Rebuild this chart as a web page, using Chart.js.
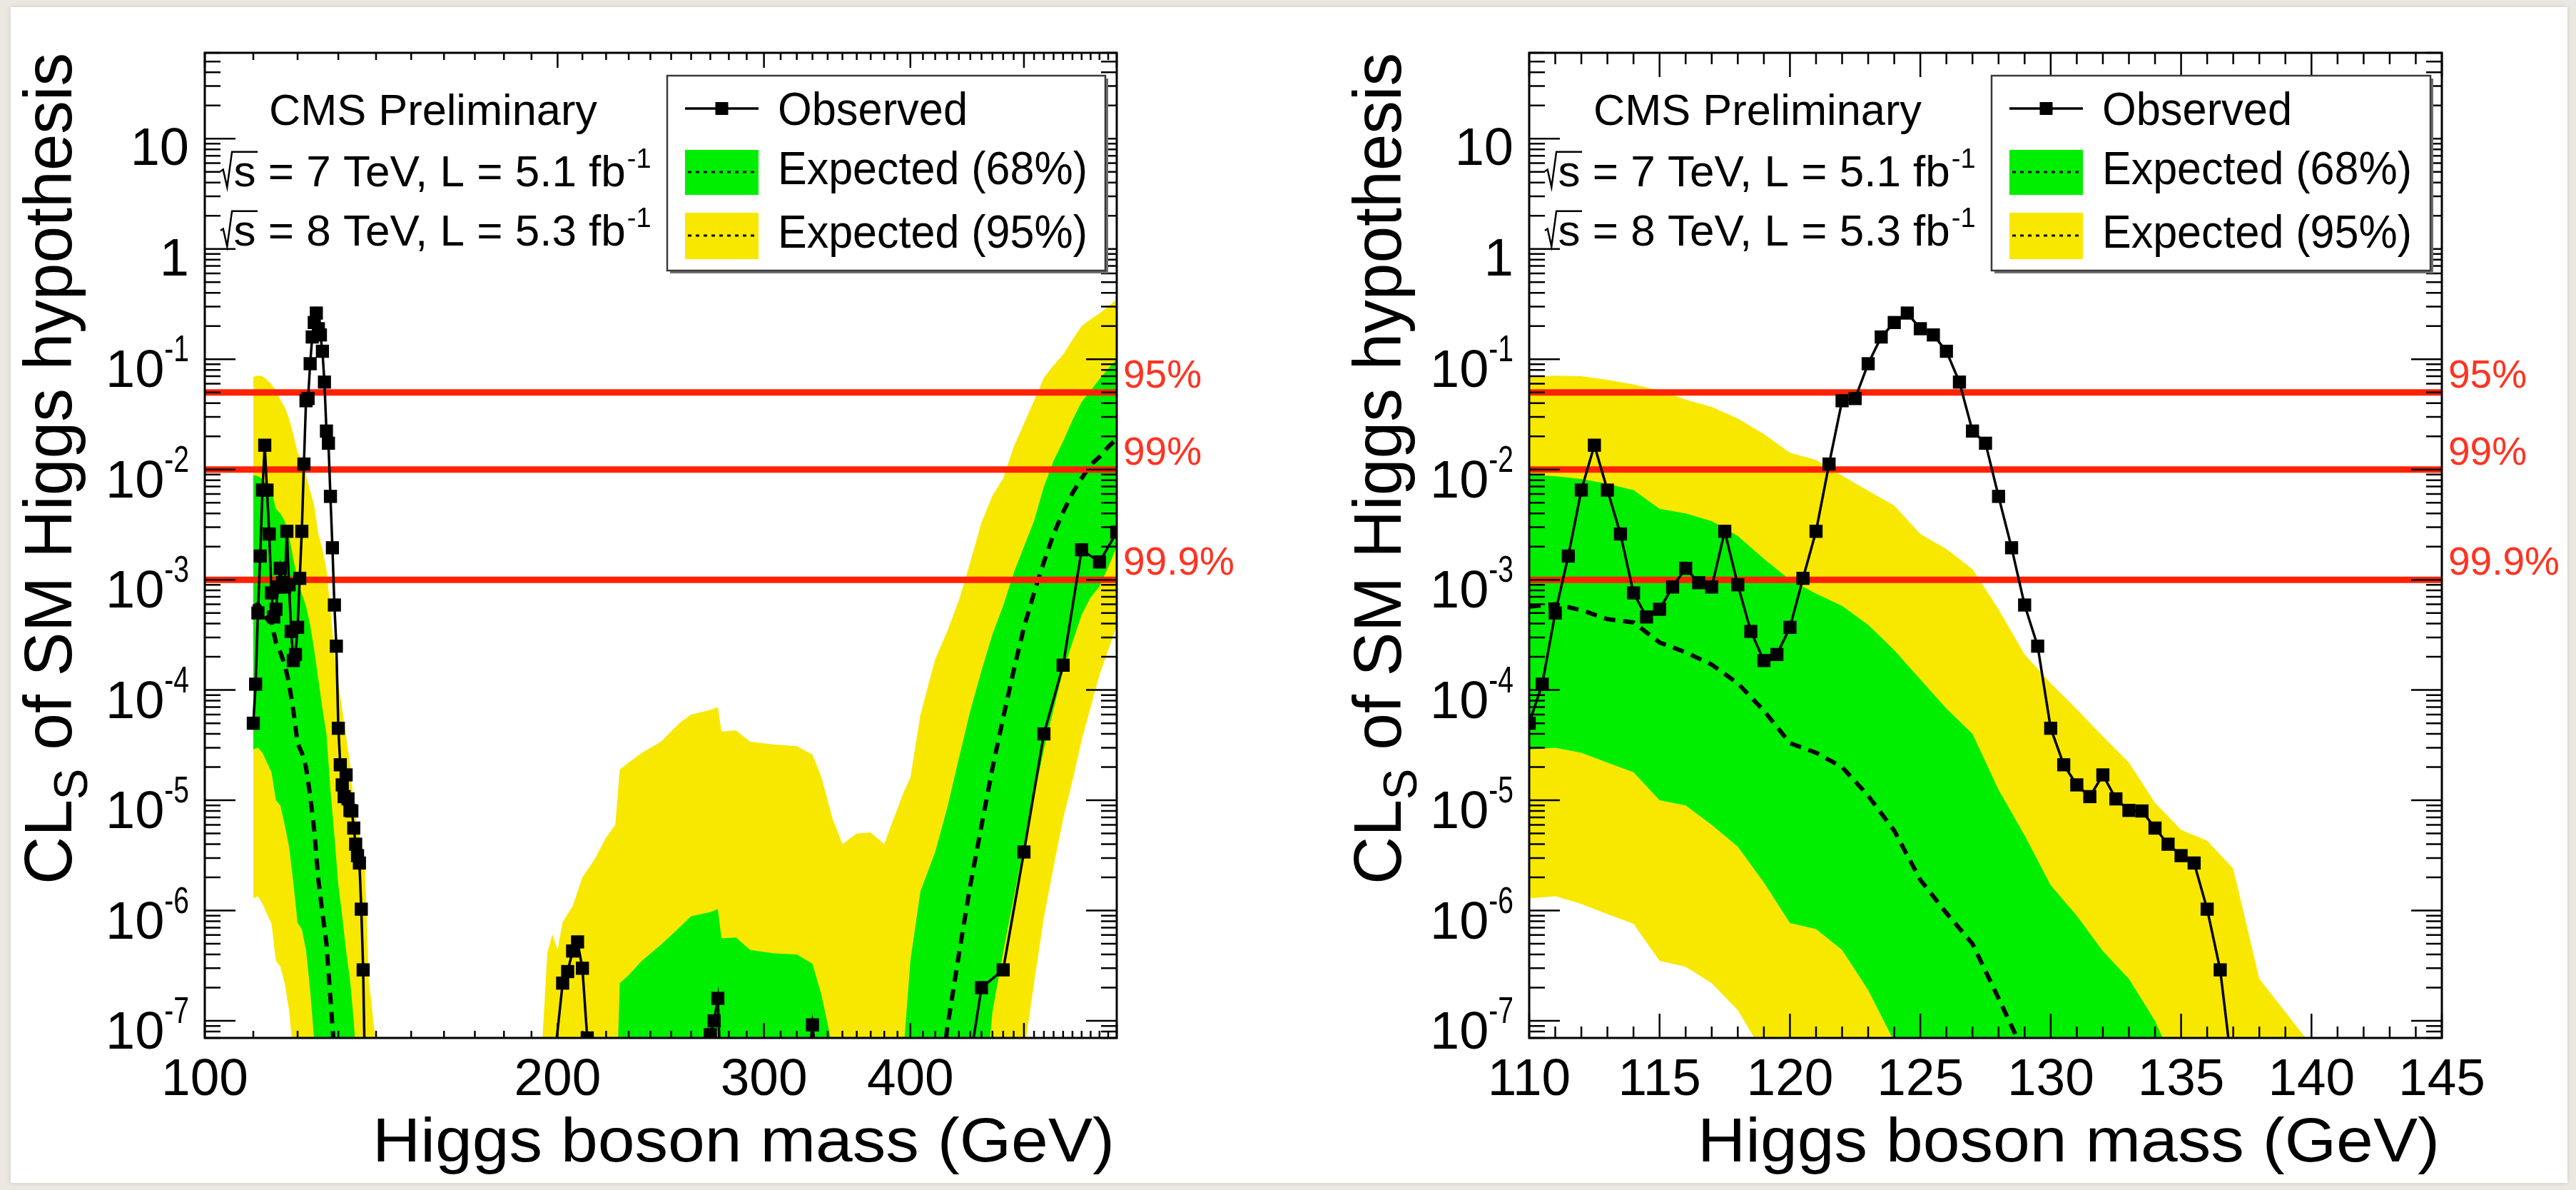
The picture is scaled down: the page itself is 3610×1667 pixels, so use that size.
<!DOCTYPE html>
<html>
<head>
<meta charset="utf-8">
<title>CLs of SM Higgs hypothesis</title>
<script src="https://cdn.jsdelivr.net/npm/chart.js@4.4.1/dist/chart.umd.min.js"></script>
<style>
	html, body { margin: 0; padding: 0; background: #ebe8e2; }
	body { width: 3610px; height: 1667px; position: relative; overflow: hidden; }
	#page { position: absolute; left: 15px; top: 10px; width: 3583px; height: 1647px; background: #ffffff;
		box-shadow: 0 0 7px rgba(0, 0, 0, 0.12); }
	canvas { position: absolute; top: 0; z-index: 1; }
	#left { left: 0; }
	#right { left: 1800px; }
</style>
</head>
<body>
<div id="page"></div>
<canvas id="left" width="1800" height="1667"></canvas>
<canvas id="right" width="1810" height="1667"></canvas>
<script>
// observed CLs, low mass scan (0.5 GeV steps)
const obsMassLow = [110, 110.5, 111, 111.5, 112, 112.5, 113, 113.5, 114, 114.5,
	115, 115.5, 116, 116.5, 117, 117.5, 118, 118.5, 119, 119.5,
	120, 120.5, 121, 121.5, 122, 122.5, 123, 123.5, 124, 124.5,
	125, 125.5, 126, 126.5, 127, 127.5, 128, 128.5, 129, 129.5,
	130, 130.5, 131, 131.5, 132, 132.5, 133, 133.5, 134, 134.5,
	135, 135.5, 136, 136.5, 137];
const obsLow = [5.0e-5, 1.13e-4, 5.0e-4, 1.64e-3, 6.5e-3, 0.0166, 6.5e-3, 2.6e-3, 7.6e-4, 4.6e-4,
	5.4e-4, 8.6e-4, 1.27e-3, 9.4e-4, 8.6e-4, 2.75e-3, 9.0e-4, 3.4e-4, 1.85e-4, 2.1e-4,
	3.7e-4, 1.03e-3, 2.75e-3, 0.0112, 0.042, 0.044, 0.091, 0.159, 0.215, 0.262,
	0.189, 0.166, 0.118, 0.062, 0.0223, 0.0173, 5.7e-3, 1.95e-3, 5.9e-4, 2.5e-4,
	4.5e-5, 2.1e-5, 1.38e-5, 1.08e-5, 1.7e-5, 1.03e-5, 8.1e-6, 8.0e-6, 5.6e-6, 4.0e-6,
	3.15e-6, 2.7e-6, 1.03e-6, 2.9e-7, 3e-8];

// observed CLs, high mass points
const obsMassHigh = [198, 202, 204, 206, 208, 210, 212, 214, 268, 270, 272, 274, 276,
	325, 330, 335, 440, 460, 480, 500, 520, 540, 560, 580, 600];
const obsHigh = [3e-8, 2.2e-7, 2.8e-7, 4.3e-7, 5.2e-7, 3.0e-7, 7e-8, 1e-8, 1e-8, 7.5e-8, 1.0e-7, 1.6e-7, 2e-8,
	2e-8, 9.2e-8, 2e-8, 1e-8, 2.0e-7, 2.9e-7, 3.4e-6, 4.0e-5, 1.68e-4, 1.87e-3, 1.45e-3, 2.7e-3];

// expected bands, low mass
const expMassLow = [110, 111, 112, 113, 114, 115, 116, 117, 118, 119,
	120, 121, 122, 123, 124, 125, 126, 127, 128, 129,
	130, 131, 132, 133, 134, 135, 136, 137, 138, 139,
	140, 141, 145];
const exp95UpLow = [0.069, 0.071, 0.070, 0.065, 0.059, 0.052, 0.043, 0.037, 0.029, 0.021,
	0.0142, 0.0122, 0.0088, 0.0064, 0.0047, 0.0026, 0.0019, 0.00125, 5.4e-4, 2.1e-4,
	1.15e-4, 6.7e-5, 3.8e-5, 2.2e-5, 9.5e-6, 5.4e-6, 4.3e-6, 2.4e-6, 2.4e-7, 1.2e-7,
	6e-8, 1e-8, 1e-8];
const exp68UpLow = [8.9e-3, 8.7e-3, 8.2e-3, 7.4e-3, 6.5e-3, 4.4e-3, 4.0e-3, 3.4e-3, 2.5e-3, 1.55e-3,
	1.0e-3, 7.5e-4, 5.8e-4, 3.9e-4, 2.3e-4, 1.25e-4, 6.8e-5, 4.0e-5, 1.25e-5, 4.8e-6,
	1.7e-6, 9e-7, 4.3e-7, 2.4e-7, 1.0e-7, 3e-8, 1e-8, 1e-8, 1e-8, 1e-8,
	1e-8, 1e-8, 1e-8];
const expMedLow = [5.7e-4, 6.0e-4, 5.3e-4, 4.4e-4, 4.1e-4, 2.7e-4, 2.2e-4, 1.7e-4, 1.15e-4, 6.5e-5,
	3.3e-5, 2.7e-5, 2.0e-5, 1.1e-5, 5.3e-6, 1.9e-6, 9.5e-7, 5e-7, 1.6e-7, 5e-8,
	1e-8, 1e-8, 1e-8, 1e-8, 1e-8, 1e-8, 1e-8, 1e-8, 1e-8, 1e-8,
	1e-8, 1e-8, 1e-8];
const exp68DnLow = [2.9e-5, 3.0e-5, 2.7e-5, 2.2e-5, 1.8e-5, 1.0e-5, 9.0e-6, 6.0e-6, 3.8e-6, 1.8e-6,
	7.7e-7, 6.8e-7, 4.4e-7, 1.9e-7, 6.5e-8, 1e-8, 1e-8, 1e-8, 1e-8, 1e-8,
	1e-8, 1e-8, 1e-8, 1e-8, 1e-8, 1e-8, 1e-8, 1e-8, 1e-8, 1e-8,
	1e-8, 1e-8, 1e-8];
const exp95DnLow = [1.29e-6, 1.35e-6, 1.15e-6, 9.3e-7, 7.6e-7, 3.5e-7, 3.1e-7, 2.2e-7, 1.25e-7, 5e-8,
	1e-8, 1e-8, 1e-8, 1e-8, 1e-8, 1e-8, 1e-8, 1e-8, 1e-8, 1e-8,
	1e-8, 1e-8, 1e-8, 1e-8, 1e-8, 1e-8, 1e-8, 1e-8, 1e-8, 1e-8,
	1e-8, 1e-8, 1e-8];

// expected bands, high mass
const expMassHigh = [150, 190, 194, 196, 198, 200, 202, 206, 210, 215,
	220, 224, 226, 230, 236, 245, 254, 260, 270, 274,
	276, 284, 292, 306, 320, 330, 336, 343, 350, 360,
	370, 380, 386, 395, 400, 408, 420, 430, 440, 450,
	460, 470, 480, 490, 500, 510, 520, 530, 540, 550,
	560, 570, 580, 590, 600];
const exp95UpHigh = [1e-8, 1e-8, 6e-8, 4.1e-7, 6.1e-7, 4.4e-7, 7.9e-7, 1.1e-6, 2.0e-6, 2.9e-6,
	4.6e-6, 6.0e-6, 1.9e-5, 2.2e-5, 2.7e-5, 3.4e-5, 5.0e-5, 6.0e-5, 6.6e-5, 7.0e-5,
	4.2e-5, 4.3e-5, 3.4e-5, 3.2e-5, 3.1e-5, 2.6e-5, 1.6e-5, 7.0e-6, 4.0e-6, 5.0e-6,
	5.1e-6, 4.0e-6, 6.3e-6, 1.2e-5, 1.6e-5, 6.0e-5, 1.9e-4, 3.4e-4, 6.5e-4, 1.45e-3,
	3.3e-3, 5.8e-3, 8.3e-3, 0.016, 0.026, 0.042, 0.068, 0.088, 0.11, 0.15,
	0.20, 0.23, 0.26, 0.30, 0.35];
const exp68UpHigh = [1e-8, 1e-8, 1e-8, 1e-8, 1e-8, 1e-8, 1e-8, 1e-8, 1e-8, 1e-8,
	1e-8, 1e-8, 2.2e-7, 2.6e-7, 3.5e-7, 4.9e-7, 7.0e-7, 8.9e-7, 9.7e-7, 1.03e-6,
	5.6e-7, 5.7e-7, 4.4e-7, 4.1e-7, 4.0e-7, 3.3e-7, 1.7e-7, 6e-8, 1e-8, 1e-8,
	1e-8, 1e-8, 1e-8, 6e-8, 3.5e-7, 1.5e-6, 3.4e-6, 8.5e-6, 2.4e-5, 6.5e-5,
	1.5e-4, 3.2e-4, 5.8e-4, 1.15e-3, 2.0e-3, 3.4e-3, 7.0e-3, 0.012, 0.018, 0.028,
	0.041, 0.052, 0.066, 0.082, 0.10];
const expMedHigh = [1e-8, 1e-8, 1e-8, 1e-8, 1e-8, 1e-8, 1e-8, 1e-8, 1e-8, 1e-8,
	1e-8, 1e-8, 1e-8, 1e-8, 1e-8, 1e-8, 1e-8, 1e-8, 1e-8, 1e-8,
	1e-8, 1e-8, 1e-8, 1e-8, 1e-8, 1e-8, 1e-8, 1e-8, 1e-8, 1e-8,
	1e-8, 1e-8, 1e-8, 1e-8, 1e-8, 1e-8, 1e-8, 8.5e-8, 4e-7, 1.7e-6,
	5.9e-6, 1.95e-5, 5.6e-5, 1.5e-4, 3.7e-4, 7.6e-4, 1.45e-3, 2.6e-3, 4.1e-3, 6.1e-3,
	8.3e-3, 0.011, 0.013, 0.016, 0.019];
const exp68DnHigh = [1e-8, 1e-8, 1e-8, 1e-8, 1e-8, 1e-8, 1e-8, 1e-8, 1e-8, 1e-8,
	1e-8, 1e-8, 1e-8, 1e-8, 1e-8, 1e-8, 1e-8, 1e-8, 1e-8, 1e-8,
	1e-8, 1e-8, 1e-8, 1e-8, 1e-8, 1e-8, 1e-8, 1e-8, 1e-8, 1e-8,
	1e-8, 1e-8, 1e-8, 1e-8, 1e-8, 1e-8, 1e-8, 1e-8, 1e-8, 1e-8,
	1e-8, 1.2e-7, 4.2e-7, 1.3e-6, 3.9e-6, 1.07e-5, 2.9e-5, 6.7e-5, 1.5e-4, 2.7e-4,
	4.8e-4, 6.9e-4, 8.7e-4, 1.3e-3, 2.0e-3];
const exp95DnHigh = [1e-8, 1e-8, 1e-8, 1e-8, 1e-8, 1e-8, 1e-8, 1e-8, 1e-8, 1e-8,
	1e-8, 1e-8, 1e-8, 1e-8, 1e-8, 1e-8, 1e-8, 1e-8, 1e-8, 1e-8,
	1e-8, 1e-8, 1e-8, 1e-8, 1e-8, 1e-8, 1e-8, 1e-8, 1e-8, 1e-8,
	1e-8, 1e-8, 1e-8, 1e-8, 1e-8, 1e-8, 1e-8, 1e-8, 1e-8, 1e-8,
	1e-8, 1e-8, 1e-8, 1e-8, 5e-8, 2.2e-7, 8.7e-7, 2.5e-6, 6.8e-6, 1.5e-5,
	3.5e-5, 7.0e-5, 1.37e-4, 2.3e-4, 3.8e-4];

// confidence levels (red lines)
const clLevels = [0.05, 0.01, 0.001];
const clNames = ['95%', '99%', '99.9%'];

// axis labels
const leftXLabels = [100, 200, 300, 400];
const rightXLabels = [110, 115, 120, 125, 130, 135, 140, 145];
const yLabelExps = [1, 0, -1, -2, -3, -4, -5, -6, -7];
const legendLabels = ['Observed', 'Expected (68%)', 'Expected (95%)'];

const Y_MIN = 7e-8, Y_MAX = 60;
const YELLOW = '#f8e800';
const GREEN = '#00ee00';
const RED = '#ff2200';
const FONT = '"Liberation Sans", Arial, Helvetica, sans-serif';

Chart.defaults.font.family = FONT;

const pts = (xs, ys) => xs.map((x, i) => ({x: x, y: ys[i]}));

function font(px) { return px + 'px ' + FONT; }

// text squeezed or stretched to a given width
function fitText(ctx, text, x, y, px, width, align) {
	ctx.font = font(px);
	const s = width / ctx.measureText(text).width;
	ctx.save();
	ctx.translate(x, y);
	ctx.scale(s, 1);
	ctx.textAlign = align;
	ctx.fillText(text, 0, 0);
	ctx.restore();
}

function drawRootS(ctx, x, y, f, text, sup) {
	ctx.font = font(f);
	const sw = ctx.measureText('s').width;
	const sx = x + 0.30 * f;
	ctx.save();
	ctx.strokeStyle = '#000';
	ctx.lineWidth = 2.5;
	ctx.beginPath();
	ctx.moveTo(x, y - 0.34 * f);
	ctx.lineTo(x + 0.06 * f, y - 0.38 * f);
	ctx.lineTo(x + 0.15 * f, y + 0.02 * f);
	ctx.lineTo(x + 0.26 * f, y - 0.78 * f);
	ctx.lineTo(sx + sw + 0.04 * f, y - 0.78 * f);
	ctx.stroke();
	ctx.restore();
	ctx.textAlign = 'left';
	ctx.fillText('s' + text, sx, y);
	const w = ctx.measureText('s' + text).width;
	ctx.font = font(Math.round(f * 0.62));
	ctx.fillText(sup, sx + w + 2, y - 0.42 * f);
}

function drawLegend(ctx, a) {
	const x0 = a.left + 648, x1 = a.right - 16, y0 = 106, y1 = 379;
	ctx.fillStyle = '#707070';
	ctx.fillRect(x0 + 4, y0 + 4, x1 - x0, y1 - y0);
	ctx.fillStyle = '#ffffff';
	ctx.fillRect(x0, y0, x1 - x0, y1 - y0);
	ctx.strokeStyle = '#3a3a3a';
	ctx.lineWidth = 2.5;
	ctx.strokeRect(x0, y0, x1 - x0, y1 - y0);

	const sx0 = x0 + 25, sx1 = x0 + 128, tx = x0 + 155;
	// observed sample
	ctx.strokeStyle = '#000';
	ctx.lineWidth = 3.5;
	ctx.beginPath(); ctx.moveTo(sx0, 152); ctx.lineTo(sx1, 152); ctx.stroke();
	ctx.fillStyle = '#000';
	ctx.fillRect((sx0 + sx1) / 2 - 9, 143, 18, 18);
	// band samples
	ctx.fillStyle = GREEN;
	ctx.fillRect(sx0, 210, sx1 - sx0, 63);
	ctx.fillStyle = YELLOW;
	ctx.fillRect(sx0, 298, sx1 - sx0, 65);
	ctx.lineWidth = 3;
	ctx.setLineDash([5, 6]);
	ctx.beginPath();
	ctx.moveTo(sx0 + 4, 241); ctx.lineTo(sx1 - 4, 241);
	ctx.moveTo(sx0 + 4, 330); ctx.lineTo(sx1 - 4, 330);
	ctx.stroke();
	ctx.setLineDash([]);

	ctx.fillStyle = '#000';
	fitText(ctx, legendLabels[0], tx, 175, 64, 266, 'left');
	fitText(ctx, legendLabels[1], tx, 258, 64, 434, 'left');
	fitText(ctx, legendLabels[2], tx, 347, 64, 434, 'left');
}

function rootPlugin(cfg) {
	return {
		id: 'rootFrame',
		afterDraw(chart) {
			const ctx = chart.ctx, a = chart.chartArea;
			const xs = chart.scales.x, ys = chart.scales.y;
			ctx.save();

			// inward ticks on all four sides
			ctx.strokeStyle = '#000';
			ctx.lineWidth = 2.5;
			ctx.beginPath();
			const vt = (v, len) => {
				const p = xs.getPixelForValue(v);
				ctx.moveTo(p, a.bottom); ctx.lineTo(p, a.bottom - len);
				ctx.moveTo(p, a.top); ctx.lineTo(p, a.top + len);
			};
			const ht = (v, len) => {
				const p = ys.getPixelForValue(v);
				ctx.moveTo(a.left, p); ctx.lineTo(a.left + len, p);
				ctx.moveTo(a.right, p); ctx.lineTo(a.right - len, p);
			};
			cfg.xMajor.forEach(v => vt(v, cfg.xTickLen[0]));
			cfg.xMinor.forEach(v => vt(v, cfg.xTickLen[1]));
			for (let k = -8; k <= 1; k++) {
				for (let j = 1; j <= 9; j++) {
					const v = j * Math.pow(10, k);
					if (v < Y_MIN || v > Y_MAX) continue;
					ht(v, j === 1 ? 43 : 22);
				}
			}
			ctx.stroke();

			ctx.lineWidth = 3;
			ctx.strokeRect(a.left, a.top, a.right - a.left, a.bottom - a.top);

			// y tick labels
			ctx.fillStyle = '#000';
			ctx.textAlign = 'right';
			const xr = a.left - 22;
			yLabelExps.forEach(e => {
				const p = ys.getPixelForValue(Math.pow(10, e));
				if (e >= 0) {
					ctx.font = font(74);
					ctx.fillText(e === 1 ? '10' : '1', xr, p + 37);
				} else {
					const sup = String(e);
					ctx.font = font(52);
					const ws = ctx.measureText(sup).width * 0.75;
					ctx.save();
					ctx.translate(xr, p + 3);
					ctx.scale(0.75, 1);
					ctx.fillText(sup, 0, 0);
					ctx.restore();
					ctx.font = font(74);
					ctx.fillText('10', xr - ws, p + 39);
				}
			});

			// x tick labels
			ctx.textAlign = 'center';
			ctx.font = font(73);
			cfg.xLabels.forEach(v => ctx.fillText(String(v), xs.getPixelForValue(v), a.bottom + 80));

			// axis titles
			fitText(ctx, 'Higgs boson mass (GeV)', a.right - 3, 1627, 88, 1040, 'right');

			ctx.save();
			ctx.translate(a.left - cfg.titleGap, a.top);
			ctx.rotate(-Math.PI / 2);
			ctx.textAlign = 'left';
			ctx.font = font(94);
			const wCL = ctx.measureText('CL').width;
			const rest = ' of SM Higgs hypothesis';
			const wR = ctx.measureText(rest).width;
			ctx.font = font(66);
			const wS = ctx.measureText('S').width;
			ctx.scale(1165 / (wCL + wS + wR), 1);
			const x0 = -(wCL + wS + wR);
			ctx.font = font(94);
			ctx.fillText('CL', x0, 0);
			ctx.fillText(rest, x0 + wCL + wS, 0);
			ctx.font = font(66);
			ctx.fillText('S', x0 + wCL, 22);
			ctx.restore();

			// CL level labels
			ctx.fillStyle = '#ff3322';
			ctx.font = font(55);
			ctx.textAlign = 'left';
			clLevels.forEach((l, i) => ctx.fillText(clNames[i], a.right + 9, ys.getPixelForValue(l) - 7));

			// CMS text
			ctx.fillStyle = '#000';
			fitText(ctx, 'CMS Preliminary', a.left + 90, 175, 62, 460, 'left');
			drawRootS(ctx, a.left + 22, 261, 62, ' = 7 TeV, L = 5.1 fb', '-1');
			drawRootS(ctx, a.left + 22, 344, 62, ' = 8 TeV, L = 5.3 fb', '-1');

			drawLegend(ctx, a);
			ctx.restore();
		}
	};
}

function makePanel(id, cfg) {
	const H = 1667, FT = 74, FB = 1454;
	const band = (data, color, fill, order) => ({
		data: data, borderColor: 'rgba(0,0,0,0)', borderWidth: 0, backgroundColor: color,
		fill: fill, pointRadius: 0, tension: 0, order: order
	});
	const datasets = [
		{
			label: 'Observed', data: pts(cfg.obsMass, cfg.obs), borderColor: '#000', borderWidth: 3.5,
			pointStyle: 'rect', pointRadius: 13, pointBackgroundColor: '#000', pointBorderWidth: 0,
			fill: false, tension: 0, order: 0
		},
		{
			label: 'Expected', data: pts(cfg.expMass, cfg.expMed), borderColor: '#000', borderWidth: 6,
			borderDash: [16, 11], pointRadius: 0, fill: false, tension: 0, order: 2
		},
		band(pts(cfg.expMass, cfg.exp68Up), GREEN, '+1', 3),
		band(pts(cfg.expMass, cfg.exp68Dn), GREEN, false, 4),
		band(pts(cfg.expMass, cfg.exp95Up), YELLOW, '+1', 5),
		band(pts(cfg.expMass, cfg.exp95Dn), YELLOW, false, 6)
	];
	clLevels.forEach(l => datasets.push({
		data: [{x: cfg.xMin, y: l}, {x: cfg.xMax, y: l}], borderColor: RED, borderWidth: 9,
		pointRadius: 0, fill: false, order: 1
	}));

	return new Chart(document.getElementById(id), {
		type: 'line',
		data: {datasets: datasets},
		options: {
			responsive: false,
			animation: false,
			devicePixelRatio: 1,
			events: [],
			layout: {padding: {left: cfg.frameLeft, right: cfg.width - cfg.frameRight, top: FT, bottom: H - FB}},
			scales: {
				x: {type: cfg.xType, min: cfg.xMin, max: cfg.xMax, display: false},
				y: {type: 'logarithmic', min: Y_MIN, max: Y_MAX, display: false}
			},
			plugins: {legend: {display: false}, tooltip: {enabled: false}}
		},
		plugins: [rootPlugin(cfg)]
	});
}

// tick positions
const leftMajor = [], leftMinor = [], rightMajor = [], rightMinor = [];
for (let m = 100; m <= 600; m += 10) (m % 100 === 0 ? leftMajor : leftMinor).push(m);
for (let m = 110; m <= 145; m += 1) (m % 5 === 0 ? rightMajor : rightMinor).push(m);

makePanel('left', {
	width: 1800, frameLeft: 287, frameRight: 1565, titleGap: 187,
	xType: 'logarithmic', xMin: 100, xMax: 600,
	xMajor: leftMajor, xMinor: leftMinor, xLabels: leftXLabels, xTickLen: [21, 10],
	obsMass: obsMassLow.concat(obsMassHigh), obs: obsLow.concat(obsHigh),
	expMass: expMassLow.concat(expMassHigh),
	expMed: expMedLow.concat(expMedHigh),
	exp68Up: exp68UpLow.concat(exp68UpHigh), exp68Dn: exp68DnLow.concat(exp68DnHigh),
	exp95Up: exp95UpLow.concat(exp95UpHigh), exp95Dn: exp95DnLow.concat(exp95DnHigh)
});

makePanel('right', {
	width: 1810, frameLeft: 343, frameRight: 1622, titleGap: 180,
	xType: 'linear', xMin: 110, xMax: 145,
	xMajor: rightMajor, xMinor: rightMinor, xLabels: rightXLabels, xTickLen: [34, 16],
	obsMass: obsMassLow, obs: obsLow,
	expMass: expMassLow, expMed: expMedLow,
	exp68Up: exp68UpLow, exp68Dn: exp68DnLow,
	exp95Up: exp95UpLow, exp95Dn: exp95DnLow
});
</script>
</body>
</html>
